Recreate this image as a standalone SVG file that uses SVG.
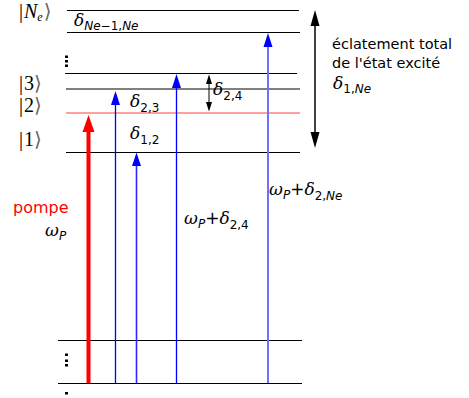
<svg xmlns="http://www.w3.org/2000/svg" width="469" height="398" viewBox="0 0 469 398">
<style>
.lv{stroke:#000;stroke-width:1;fill:none}
.ket{font-family:"Liberation Serif",serif;font-size:20px;fill:#000}
.br{font-family:"DejaVu Sans",sans-serif;font-size:20px;fill:#666}
.gr{font-family:"DejaVu Serif",serif;font-style:italic;font-size:17px;fill:#000}
.sb{font-family:"DejaVu Sans",sans-serif;font-style:normal;font-size:12px}
.it{font-style:italic}
.tx{font-family:"DejaVu Sans",sans-serif;font-size:14.5px;fill:#000}
.dot{fill:#000}
</style>
<g id="levels">
<line class="lv" x1="67" y1="10.5" x2="299" y2="10.5"/>
<line class="lv" x1="67" y1="32.5" x2="300" y2="32.5"/>
<line class="lv" x1="65" y1="73.5" x2="297" y2="73.5"/>
<line x1="66" y1="89" x2="300" y2="89" stroke="#808080" stroke-width="2"/>
<line x1="66" y1="113" x2="300" y2="113" stroke="#ff8080" stroke-width="1.6"/>
<line class="lv" x1="66" y1="152.5" x2="300" y2="152.5"/>
<line class="lv" x1="58" y1="340.5" x2="302" y2="340.5"/>
<line class="lv" x1="58" y1="383.5" x2="302" y2="383.5"/>
<rect class="dot" x="65" y="55.5" width="3" height="2.5"/>
<rect class="dot" x="65" y="60" width="3" height="2.5"/>
<rect class="dot" x="65" y="64.5" width="3" height="2.5"/>
<rect class="dot" x="65" y="353.5" width="3" height="2.5"/>
<rect class="dot" x="65" y="359.5" width="3" height="2.5"/>
<rect class="dot" x="65" y="364" width="3" height="2.5"/>
<rect class="dot" x="65" y="392" width="3" height="2.5"/>
</g>
<g id="kets">
<text class="ket" x="19" y="18">|<tspan class="it" dx="1">N</tspan><tspan class="it" font-size="12" dy="3">e</tspan><tspan class="br" dx="1" dy="-3">⟩</tspan></text>
<text class="ket" x="19" y="90">|<tspan dx="1">3</tspan><tspan class="br">⟩</tspan></text>
<text class="ket" x="19" y="112">|<tspan dx="1">2</tspan><tspan class="br">⟩</tspan></text>
<text class="ket" x="19" y="146">|<tspan dx="1">1</tspan><tspan class="br">⟩</tspan></text>
</g>
<g id="connectors">
<line x1="88.5" y1="383" x2="88.5" y2="130" stroke="#ff0000" stroke-width="4"/>
<polygon points="82.5,132 94.5,132 88.5,115" fill="#ff0000"/>
<line x1="115.5" y1="383" x2="115.5" y2="103" stroke="#0000ff" stroke-width="1.3"/>
<polygon points="111,105 120,105 115.5,91" fill="#0000ff"/>
<line x1="136.5" y1="383" x2="136.5" y2="164" stroke="#2a2aff" stroke-width="1.6"/>
<polygon points="132,166 141,166 136.5,152.5" fill="#0000ff"/>
<line x1="176.5" y1="383" x2="176.5" y2="86" stroke="#0000ff" stroke-width="1.3"/>
<polygon points="172,88 181,88 176.5,74" fill="#0000ff"/>
<line x1="268" y1="383" x2="268" y2="45" stroke="#7070ff" stroke-width="2"/>
<polygon points="263.5,47 272.5,47 268,33" fill="#0000ff"/>
<line x1="209" y1="82" x2="209" y2="104" stroke="#000" stroke-width="1"/>
<polygon points="206,84 212,84 209,74.5" fill="#000"/>
<polygon points="206,102 212,102 209,111.5" fill="#000"/>
<line x1="315" y1="24" x2="315" y2="134" stroke="#000" stroke-width="1.5"/>
<polygon points="310.5,26 319.5,26 315,10" fill="#000"/>
<polygon points="310.5,132 319.5,132 315,148" fill="#000"/>
</g>
<g id="labels">
<text class="gr" x="74" y="26">δ<tspan class="sb" dy="4"><tspan class="it">Ne</tspan>−1,<tspan class="it">Ne</tspan></tspan></text>
<text class="gr" x="130" y="107">δ<tspan class="sb" dy="5">2,3</tspan></text>
<text class="gr" x="130" y="139">δ<tspan class="sb" dy="5">1,2</tspan></text>
<text class="gr" x="213" y="95">δ<tspan class="sb" dy="5">2,4</tspan></text>
<text class="tx" x="332" y="49">éclatement total</text>
<text class="tx" x="332" y="68">de l'état excité</text>
<text class="gr" x="333" y="89">δ<tspan class="sb" dy="4">1,<tspan class="it">Ne</tspan></tspan></text>
<text x="13" y="213" font-family="DejaVu Sans,sans-serif" font-size="16" fill="#ff0000">pompe</text>
<text class="gr" x="45" y="236">ω<tspan class="sb it" dy="4">P</tspan></text>
<text class="gr" x="184" y="224">ω<tspan class="sb it" dy="4">P</tspan><tspan font-style="normal" font-family="DejaVu Sans,sans-serif" dy="-4">+</tspan>δ<tspan class="sb" dy="5">2,4</tspan></text>
<text class="gr" x="269" y="195">ω<tspan class="sb it" dy="4">P</tspan><tspan font-style="normal" font-family="DejaVu Sans,sans-serif" dy="-4">+</tspan>δ<tspan class="sb" dy="5">2,<tspan class="it">Ne</tspan></tspan></text>
</g>
</svg>
